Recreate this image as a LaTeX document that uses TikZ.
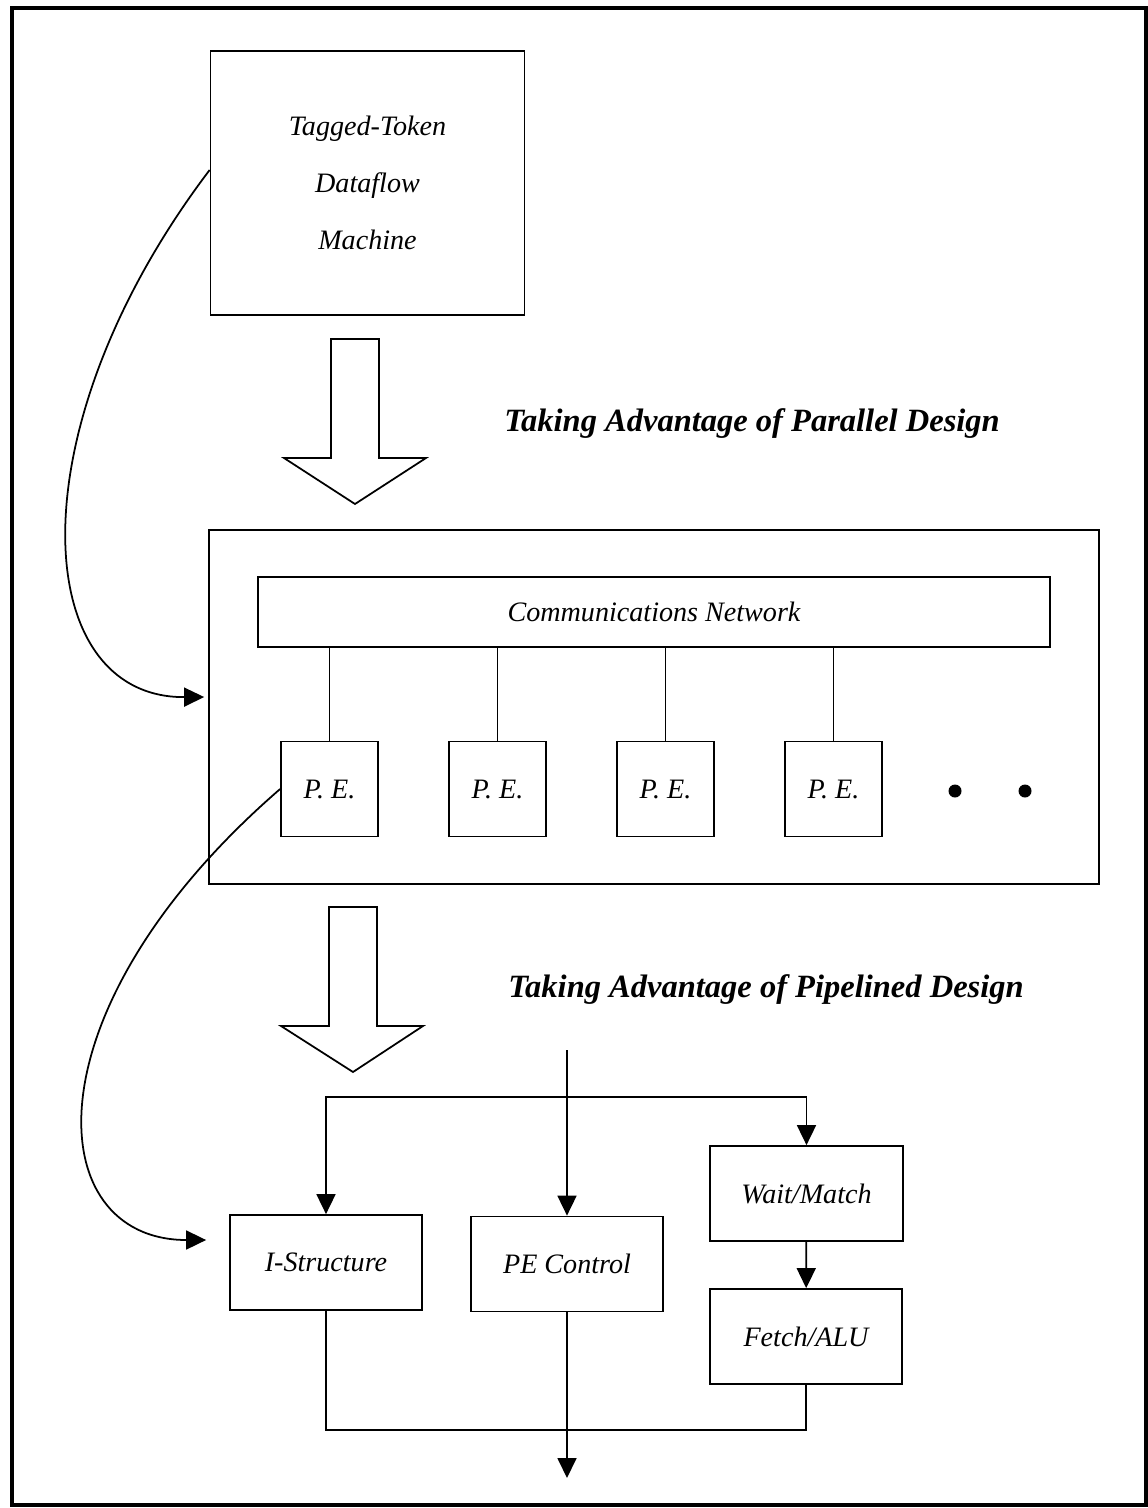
\documentclass[tikz,border=0pt]{standalone}
\usepackage{fontspec}
\setmainfont{Liberation Serif}
\usetikzlibrary{arrows.meta,calc}

\tikzset{
  blk/.style={draw, line width=1pt, minimum width=3.84cm, minimum height=1.9cm,
    font=\itshape\fontsize{16}{19}\selectfont},
  pebx/.style={blk, minimum width=1.94cm},
  wire/.style={line width=1pt},
  arr/.style={wire, -{Triangle[length=0.4cm,width=0.38cm]}},
  headline/.style={font=\bfseries\itshape\fontsize{18.5}{22}\selectfont},
  fatarrow/.style={draw, line width=1pt, line join=miter},
  dotmark/.style={circle, fill, inner sep=0pt, minimum size=0.26cm}
}

\begin{document}
\begin{tikzpicture}[x=1cm,y=-1cm]
    \useasboundingbox (0,0) rectangle (22.96,30.16);

    % outer frame
    \draw[line width=2pt] (0.24,0.16) rectangle (22.92,30.1);

    % top box
    \node[blk, minimum width=6.28cm, minimum height=5.28cm, align=center,
          font=\itshape\fontsize{16}{32.5}\selectfont] (tagged) at (7.35,3.66)
        {Tagged-Token\\Dataflow\\Machine};

    % first block arrow
    \draw[fatarrow] (6.62,6.78) -- (7.58,6.78) -- (7.58,9.16) -- (8.52,9.16)
        -- (7.1,10.08) -- (5.68,9.16) -- (6.62,9.16) -- cycle;
    \node[headline] (par) at (15.04,8.48) {Taking Advantage of Parallel Design};

    % parallel machine
    \node[blk, minimum width=17.8cm, minimum height=7.08cm] (pebox) at (13.08,14.14) {};
    \node[blk, minimum width=15.84cm, minimum height=1.4cm] (comm) at (13.08,12.24)
        {Communications Network};
    \foreach \i in {1,...,4} {
        \node[pebx] (pe\i) at ({6.59+3.36*(\i-1)},15.78) {P.\ E.};
        \draw[wire] (pe\i.north) -- (pe\i.north |- comm.south);
    }
    \node[dotmark] (dot1) at (19.1,15.82) {};
    \node[dotmark] (dot2) at (20.5,15.82) {};

    % curved link top box -> machine
    \draw[arr] ($(tagged.west)+(0,-0.26)$)
        .. controls (0.25,8.6) and (0.6,13.96) .. ($(pebox.west)+(-0.08,-0.2)$);

    % second block arrow
    \draw[fatarrow] (6.58,18.14) -- (7.54,18.14) -- (7.54,20.52) -- (8.46,20.52)
        -- (7.06,21.44) -- (5.62,20.52) -- (6.58,20.52) -- cycle;
    \node[headline] (pipe) at (15.32,19.8) {Taking Advantage of Pipelined Design};

    % pipeline stages
    \node[blk] (istr) at (6.52,25.25) {I-Structure};
    \node[blk] (pectl) at (11.34,25.28) {PE Control};
    \node[blk, minimum width=3.86cm] (wait) at (16.13,23.87) {Wait/Match};
    \node[blk] (fetch) at (16.12,26.73) {Fetch/ALU};

    \coordinate (in) at (11.34,21.0);
    \coordinate (fork) at (11.34,21.94);
    \coordinate (join) at (11.34,28.6);
    \coordinate (out) at (11.34,29.56);

    \draw[arr] (in) -- (pectl);
    \draw[arr] (fork) -| (istr);
    \draw[arr] (fork) -| (wait);
    \draw[arr] (wait) -- (fetch);
    \draw[wire] (istr) |- (join) -| (fetch);
    \draw[arr] (pectl) -- (out);

    % curved link P.E. -> pipeline
    \draw[arr] (pe1.west)
        .. controls (0.5,20.2) and (0.8,24.8) .. ($(istr.west)+(-0.46,-0.45)$);
\end{tikzpicture}
\end{document}
